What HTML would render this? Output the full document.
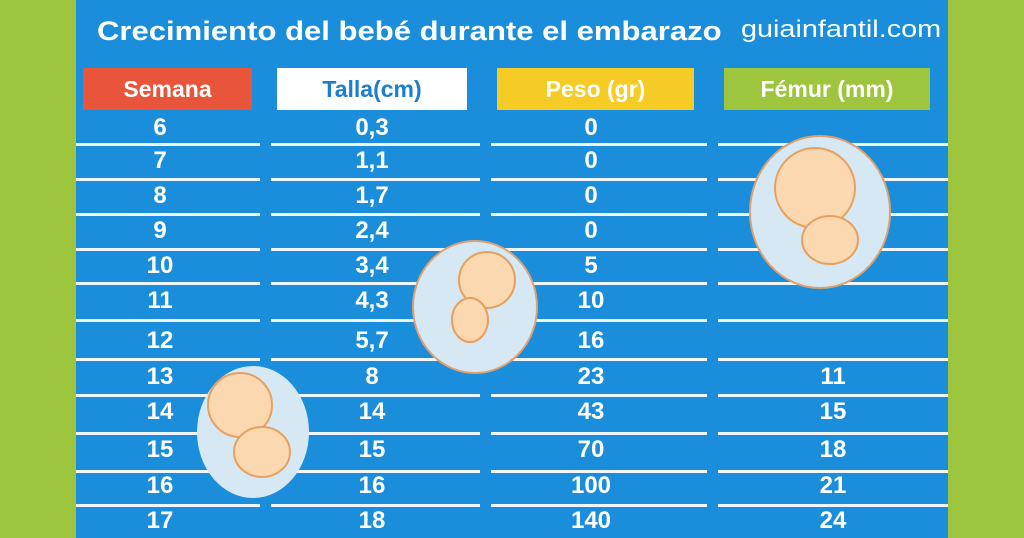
<!DOCTYPE html>
<html><head><meta charset="utf-8"><style>
*{margin:0;padding:0;box-sizing:border-box}
body{width:1024px;height:538px;overflow:hidden;background:#9dc63e;position:relative;font-family:"Liberation Sans",sans-serif}
#blue{position:absolute;left:76px;top:0;width:872px;height:538px;background:#1a8edb}
.t{position:absolute;color:#fff;font-weight:bold;white-space:nowrap;transform-origin:0 0}
.h{position:absolute;top:68px;height:42px;font-weight:bold;font-size:23px;color:#fff;text-align:center;line-height:42px}
.ln{position:absolute;height:3px;background:#eef5fb}
.c{position:absolute;width:200px;text-align:center;color:#fff;font-weight:bold;font-size:24px;line-height:26px}
</style></head><body>
<div id="blue"></div>
<div class="t" style="left:97px;top:16px;font-size:27px;transform:scaleX(1.15)">Crecimiento del bebé durante el embarazo</div>
<div class="t" style="left:741px;top:16px;font-size:24px;font-weight:normal;transform:scaleX(1.2)">guiainfantil.com</div>
<div class="h" style="left:83px;width:169px;background:#e8553a">Semana</div>
<div class="h" style="left:277px;width:190px;background:#fff;color:#1a7fd0">Talla(cm)</div>
<div class="h" style="left:497px;width:197px;background:#f7cb25">Peso (gr)</div>
<div class="h" style="left:724px;width:206px;background:#9dc63e">Fémur (mm)</div>
<div id="rows"></div>
<svg style="position:absolute;left:0;top:0" width="1024" height="538">
<g stroke="#e0a070" stroke-width="2">
<ellipse cx="475" cy="307" rx="62" ry="66" fill="#d6e8f4"/>
<ellipse cx="253" cy="432" rx="56" ry="66" fill="#d6e8f4" stroke="none"/>
<ellipse cx="820" cy="212" rx="70" ry="76" fill="#d6e8f4"/>
</g>
<g fill="#fbd8b0" stroke="#e8a060" stroke-width="2">
<circle cx="487" cy="280" r="28"/><ellipse cx="470" cy="320" rx="18" ry="22"/>
<circle cx="240" cy="405" r="32"/><ellipse cx="262" cy="452" rx="28" ry="25"/>
<circle cx="815" cy="188" r="40"/><ellipse cx="830" cy="240" rx="28" ry="24"/>
</g>
</svg>
<script>
var d=[["6","0,3","0",""],["7","1,1","0",""],["8","1,7","0",""],["9","2,4","0",""],["10","3,4","5",""],["11","4,3","10",""],["12","5,7","16",""],["13","8","23","11"],["14","14","43","15"],["15","15","70","18"],["16","16","100","21"],["17","18","140","24"]];
var ty=[128,161,196,231,266,301,341,377,412,450,486,521];
var ly=[144,179,214,249,283,320,359,395,433,471,505];
var cx=[160,372,591,833],segs=[[76,260],[271,480],[491,707],[718,948]];
var h="";
d.forEach(function(r,i){r.forEach(function(v,j){h+='<div class="c" style="left:'+(cx[j]-100)+'px;top:'+(ty[i]-13)+'px">'+v+'</div>';});});
ly.forEach(function(y){segs.forEach(function(s){h+='<div class="ln" style="left:'+s[0]+'px;width:'+(s[1]-s[0])+'px;top:'+(y-1)+'px"></div>';});});
document.getElementById("rows").innerHTML=h;
</script>
</body></html>
